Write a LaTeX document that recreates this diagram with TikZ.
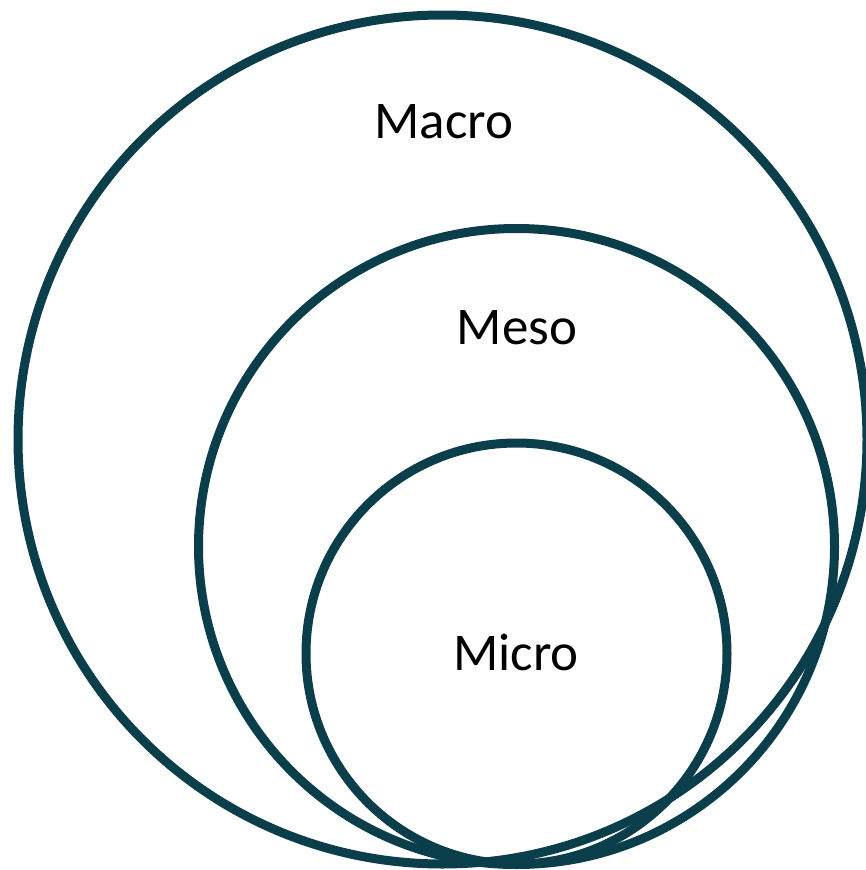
\documentclass[tikz,border=0pt]{standalone}
\usepackage{fontspec}
\setmainfont{Carlito}
\definecolor{ringteal}{HTML}{0B3E4B}
\begin{document}
\begin{tikzpicture}[x=1pt,y=-1pt,
  ring/.style={draw=ringteal, line width=9pt, circle, inner sep=0pt, outer sep=0pt},
  lbl/.style={anchor=base, inner sep=0pt, font=\fontsize{53}{58}\selectfont, text=black}]
  \useasboundingbox (0,0) rectangle (866,870);
  % nested levels, all touching at the bottom
  \node[ring, minimum size=849pt] (macro) at (442.5,439.5) {};
  \node[ring, minimum size=636pt] (meso) at (516.5,546.5) {};
  \node[ring, minimum size=421pt] (micro) at (516.5,653.5) {};
  % level names
  \node[lbl] (macrotext) at (444,138) {Macro};
  \node[lbl] (mesotext) at (517,344) {Meso};
  \node[lbl] (microtext) at (516,670) {Micro};
\end{tikzpicture}
\end{document}
